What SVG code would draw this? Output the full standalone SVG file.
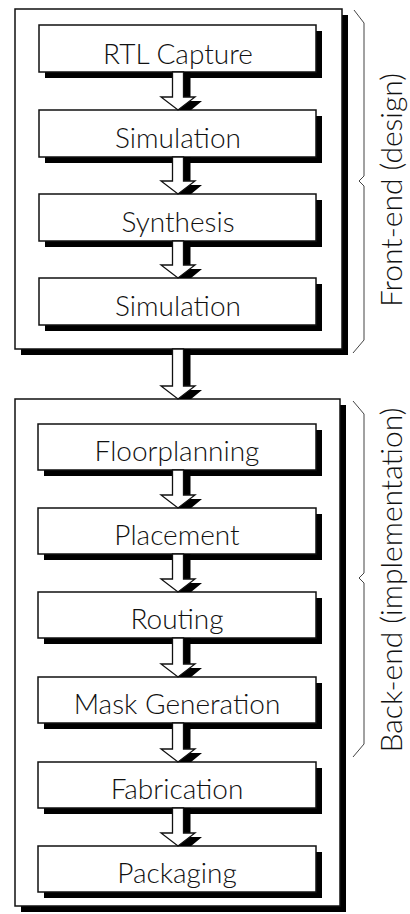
<svg xmlns="http://www.w3.org/2000/svg" width="410" height="914" viewBox="0 0 410 914">
<style>
.frame{fill:#fff;stroke:#111;stroke-width:1.5}
.box{fill:#fff;stroke:#111;stroke-width:1.5}
.sh{fill:#000}
.lbl{font-family:Lato,"Liberation Sans",Arial,sans-serif;font-weight:300;font-size:28px;fill:#111;text-anchor:middle}
.side{font-family:Lato,"Liberation Sans",Arial,sans-serif;font-weight:300;font-size:30px;fill:#111;text-anchor:middle}
.arr{fill:#fff;stroke:#111;stroke-width:1.3;stroke-linejoin:miter}
.brace{fill:none;stroke:#444;stroke-width:1}
</style>
<rect width="410" height="914" fill="#fff"/>
<g id="frontend-frame">
<rect class="sh" x="21" y="15" width="327" height="340"/>
<rect class="frame" x="15" y="9" width="327" height="340"/>
</g>
<g id="backend-frame">
<rect class="sh" x="21" y="405" width="325" height="507"/>
<rect class="frame" x="15" y="399" width="325" height="507"/>
</g>
<g id="rtl-capture"><rect class="sh" x="45" y="31" width="277" height="47"/><rect class="box" x="39" y="25" width="277" height="47"/><text class="lbl" x="178" y="64">RTL Capture</text></g>
<g id="simulation-1"><rect class="sh" x="45" y="116" width="277" height="47"/><rect class="box" x="39" y="110" width="277" height="47"/><text class="lbl" x="178" y="148">Simulation</text></g>
<g id="synthesis"><rect class="sh" x="45" y="200" width="277" height="47"/><rect class="box" x="39" y="194" width="277" height="47"/><text class="lbl" x="178" y="232">Synthesis</text></g>
<g id="simulation-2"><rect class="sh" x="45" y="284" width="277" height="47"/><rect class="box" x="39" y="278" width="277" height="47"/><text class="lbl" x="178" y="316">Simulation</text></g>
<g id="floorplanning"><rect class="sh" x="44" y="430" width="278" height="46"/><rect class="box" x="38" y="424" width="278" height="46"/><text class="lbl" x="177" y="461">Floorplanning</text></g>
<g id="placement"><rect class="sh" x="44" y="514" width="278" height="46"/><rect class="box" x="38" y="508" width="278" height="46"/><text class="lbl" x="177" y="545">Placement</text></g>
<g id="routing"><rect class="sh" x="44" y="598" width="278" height="46"/><rect class="box" x="38" y="592" width="278" height="46"/><text class="lbl" x="177" y="629">Routing</text></g>
<g id="mask-generation"><rect class="sh" x="44" y="683" width="278" height="46"/><rect class="box" x="38" y="677" width="278" height="46"/><text class="lbl" x="177" y="714">Mask Generation</text></g>
<g id="fabrication"><rect class="sh" x="44" y="768" width="278" height="46"/><rect class="box" x="38" y="762" width="278" height="46"/><text class="lbl" x="177" y="799">Fabrication</text></g>
<g id="packaging"><rect class="sh" x="44" y="852" width="278" height="46"/><rect class="box" x="38" y="846" width="278" height="46"/><text class="lbl" x="177" y="883">Packaging</text></g>
<g id="connectors">
<polygon class="sh" points="179.5,72 190.5,72 190.5,101 202,101 191.1,110 178.9,110 168,101 179.5,101"/>
<polygon class="arr" points="172.5,72 183.5,72 183.5,97 195,97 178,110 161,97 172.5,97"/>
<polygon class="sh" points="179.5,157 190.5,157 190.5,185 202,185 191.1,194 178.9,194 168,185 179.5,185"/>
<polygon class="arr" points="172.5,157 183.5,157 183.5,181 195,181 178,194 161,181 172.5,181"/>
<polygon class="sh" points="179.5,241 190.5,241 190.5,269 202,269 191.1,278 178.9,278 168,269 179.5,269"/>
<polygon class="arr" points="172.5,241 183.5,241 183.5,265 195,265 178,278 161,265 172.5,265"/>
<polygon class="sh" points="179.5,349 190.5,349 190.5,390 202,390 191.1,399 178.9,399 168,390 179.5,390"/>
<polygon class="arr" points="172.5,349 183.5,349 183.5,386 195,386 178,399 161,386 172.5,386"/>
<polygon class="sh" points="179.5,470 190.5,470 190.5,499 202,499 191.1,508 178.9,508 168,499 179.5,499"/>
<polygon class="arr" points="172.5,470 183.5,470 183.5,495 195,495 178,508 161,495 172.5,495"/>
<polygon class="sh" points="179.5,554 190.5,554 190.5,583 202,583 191.1,592 178.9,592 168,583 179.5,583"/>
<polygon class="arr" points="172.5,554 183.5,554 183.5,579 195,579 178,592 161,579 172.5,579"/>
<polygon class="sh" points="179.5,638 190.5,638 190.5,668 202,668 191.1,677 178.9,677 168,668 179.5,668"/>
<polygon class="arr" points="172.5,638 183.5,638 183.5,664 195,664 178,677 161,664 172.5,664"/>
<polygon class="sh" points="179.5,723 190.5,723 190.5,753 202,753 191.1,762 178.9,762 168,753 179.5,753"/>
<polygon class="arr" points="172.5,723 183.5,723 183.5,749 195,749 178,762 161,749 172.5,749"/>
<polygon class="sh" points="179.5,808 190.5,808 190.5,837 202,837 191.1,846 178.9,846 168,837 179.5,837"/>
<polygon class="arr" points="172.5,808 183.5,808 183.5,833 195,833 178,846 161,833 172.5,833"/>
</g>
<g id="frontend-label">
<path class="brace" d="M354,10 L364,23 L364,176 L359,181 L364,186 L364,340 L353,353"/>
<text class="side" transform="translate(402,190) rotate(-90)">Front-end (design)</text>
</g>
<g id="backend-label">
<path class="brace" d="M353,401 L364,414 L364,573 L359,578 L364,583 L364,744 L353,757"/>
<text class="side" transform="translate(402,580) rotate(-90)">Back-end (implementation)</text>
</g>
</svg>
